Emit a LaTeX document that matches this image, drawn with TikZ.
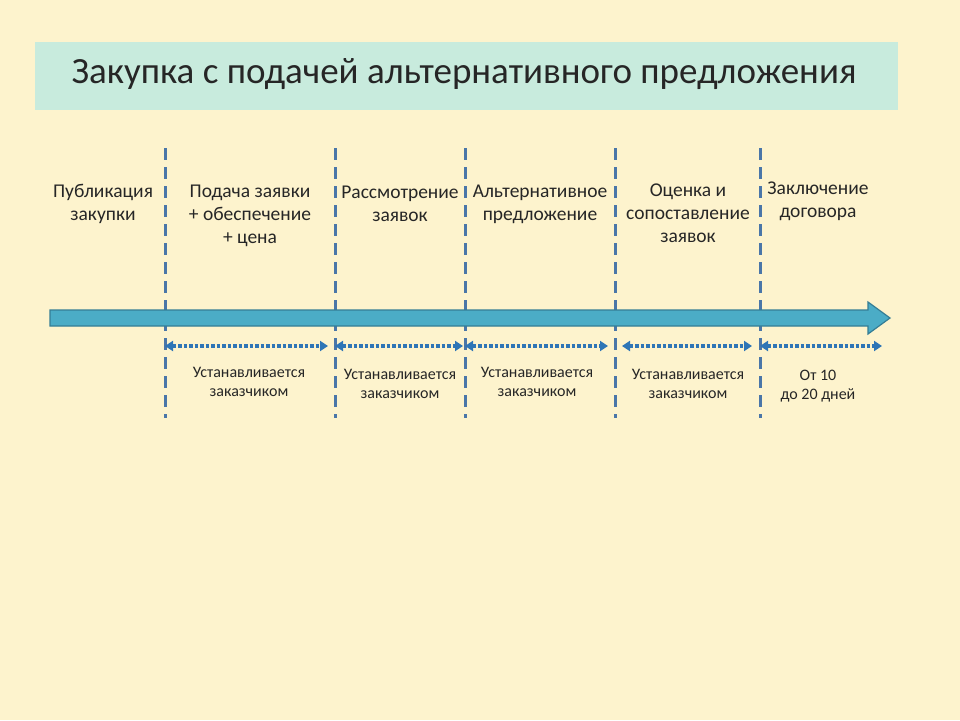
\documentclass[tikz,border=0pt]{standalone}
\usepackage{fontspec}
\setmainfont{Carlito}
\usetikzlibrary{positioning, arrows.meta}
\definecolor{bgyellow}{HTML}{FDF3CD}
\definecolor{titlebox}{HTML}{C8EBDD}
\definecolor{dashblue}{HTML}{4A76A8}
\definecolor{arrowfill}{HTML}{4BACC6}
\definecolor{arrowline}{HTML}{357D95}
\definecolor{dotblue}{HTML}{2E75B6}
\tikzset{
  stage/.style={align=center, font=\fontsize{19.5}{23}\selectfont, text=black!85},
  note/.style={align=center, font=\fontsize{16}{19}\selectfont, text=black!85},
  border/.style={dashblue, line width=3pt, dash pattern=on 12pt off 7pt},
  span/.style={dotblue, line width=3.5pt, dotted, {Triangle[length=8pt,width=10pt]}-{Triangle[length=8pt,width=10pt]}}
}
\begin{document}
\begin{tikzpicture}[x=1pt, y=-1pt]
    \fill[bgyellow] (0,0) rectangle (960,720);
    \useasboundingbox (0,0) rectangle (960,720);

    % Title
    \fill[titlebox] (35,42) rectangle (898,110);
    \node[font=\fontsize{37}{42}\selectfont, text=black!85] (title) at (464,74) {Закупка с подачей альтернативного предложения};

    % Stage borders
    \foreach \x/\n in {165/b1, 335/b2, 465/b3, 615/b4, 760/b5} {
        \coordinate (\n top) at (\x,148);
        \coordinate (\n bot) at (\x,418);
        \draw[border] (\n top) -- (\n bot);
    }
    \coordinate (b6) at (882,346);

    % Main arrow
    \filldraw[fill=arrowfill, draw=arrowline, line width=1.2pt]
        (50,310) -- (868,310) -- (868,302) -- (890,318) -- (868,334) -- (868,326) -- (50,326) -- cycle;

    % Stages
    \node[stage] (publ) at (103,204) {Публикация\\закупки};
    \node[stage] (podacha) at (250,216) {Подача заявки\\+ обеспечение\\+ цена};
    \node[stage] (rassm) at (400,204) {Рассмотрение\\заявок};
    \node[stage] (alt) at (540,204) {Альтернативное\\предложение};
    \node[stage] (ocenka) at (688,213) {Оценка и\\сопоставление\\заявок};
    \node[stage] (zakl) at (818,201) {Заключение\\договора};

    % Durations
    \coordinate (s1) at (165,346); \coordinate (e1) at (328,346);
    \coordinate (s2) at (335,346); \coordinate (e2) at (463,346);
    \coordinate (s3) at (465,346); \coordinate (e3) at (608,346);
    \coordinate (s4) at (622,346); \coordinate (e4) at (752,346);
    \coordinate (s5) at (760,346);
    \draw[span] (s1) -- (e1);
    \draw[span] (s2) -- (e2);
    \draw[span] (s3) -- (e3);
    \draw[span] (s4) -- (e4);
    \draw[span] (s5) -- (b6);

    \node[note] (d1) at (249,382) {Устанавливается\\заказчиком};
    \node[note] (d2) at (400,384) {Устанавливается\\заказчиком};
    \node[note] (d3) at (537,382) {Устанавливается\\заказчиком};
    \node[note] (d4) at (688,384) {Устанавливается\\заказчиком};
    \node[note] (d5) at (818,386) {От 10\\до 20 дней};
\end{tikzpicture}
\end{document}
